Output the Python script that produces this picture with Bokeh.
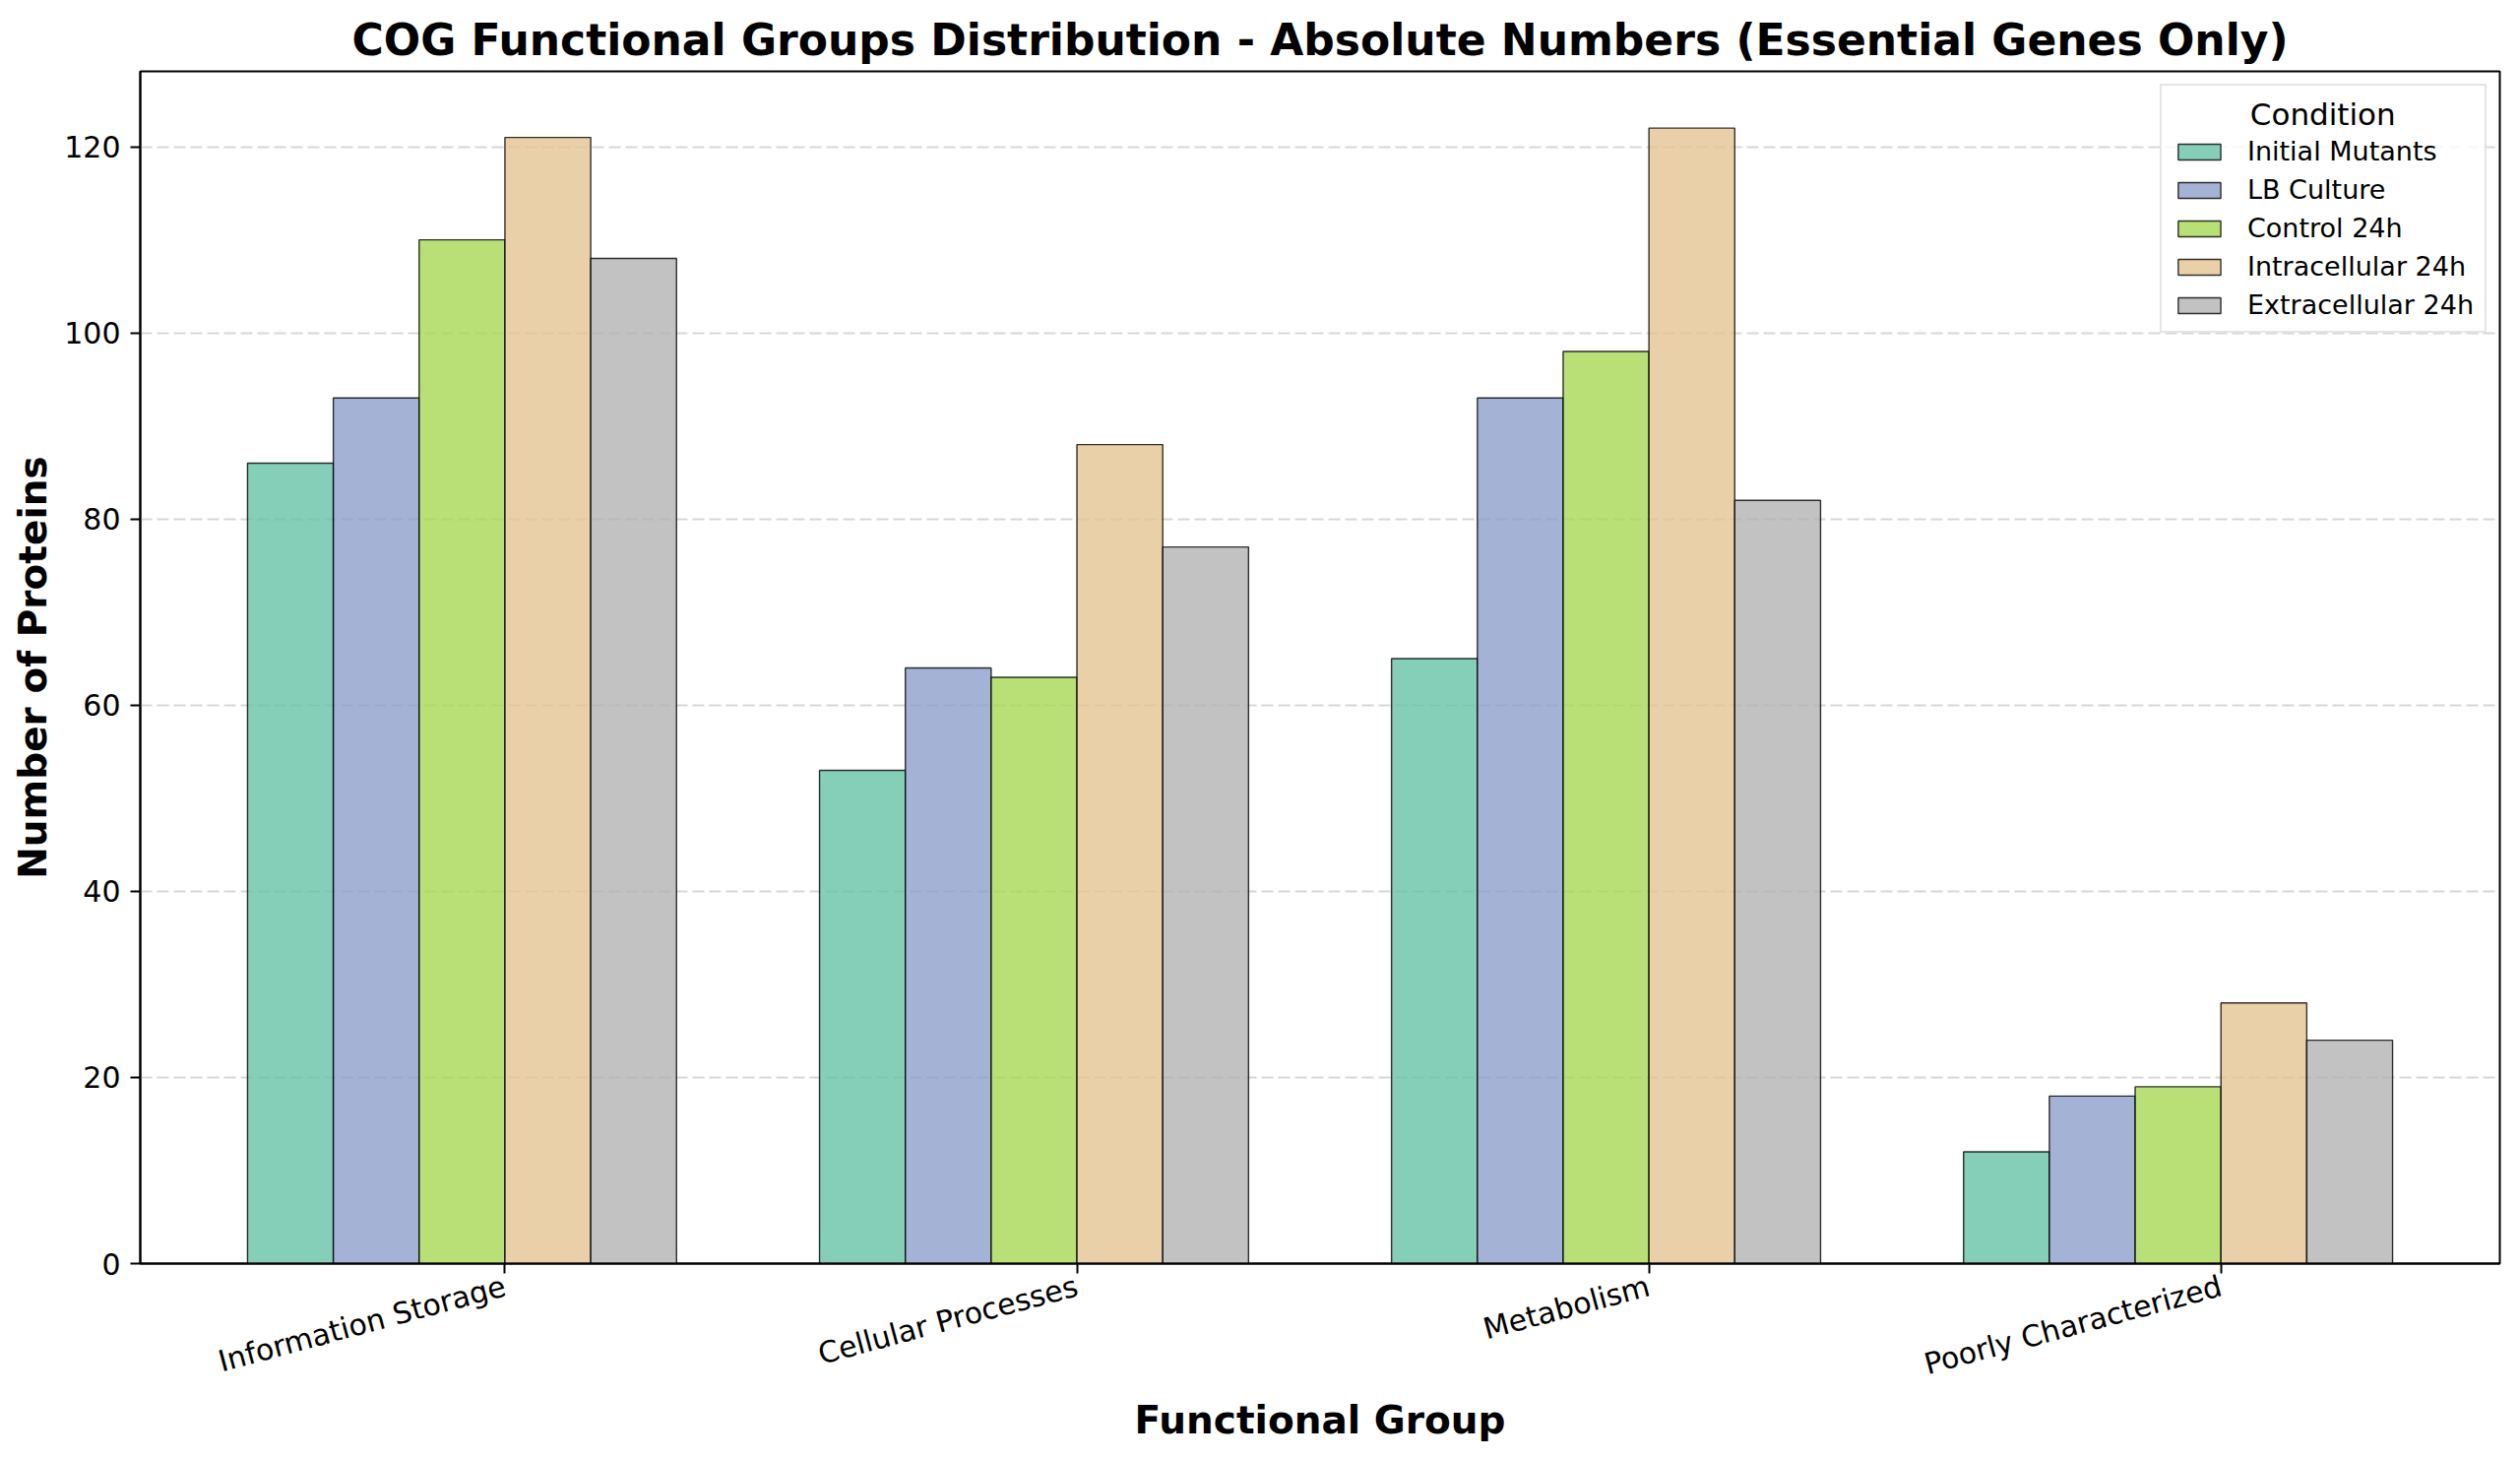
import math
from bokeh.plotting import figure
from bokeh.models import ColumnDataSource, Range1d, FixedTicker
from bokeh.transform import dodge
from bokeh.embed import file_html
from bokeh.resources import INLINE

groups = ["Information Storage", "Cellular Processes", "Metabolism", "Poorly Characterized"]
conditions = ["Initial Mutants", "LB Culture", "Control 24h", "Intracellular 24h", "Extracellular 24h"]
colors = ["#66c2a5", "#8da0cb", "#a6d854", "#e5c494", "#b3b3b3"]

initial_mutants = [86, 53, 65, 12]
lb_culture = [93, 64, 93, 18]
control_24h = [110, 63, 98, 19]
intracellular_24h = [121, 88, 122, 28]
extracellular_24h = [108, 77, 82, 24]

series = [initial_mutants, lb_culture, control_24h, intracellular_24h, extracellular_24h]
y_ticks = [0, 20, 40, 60, 80, 100, 120]

FONT = "DejaVu Sans"
bar_w = 0.15

p = figure(width=2552, height=1474, output_backend="svg", toolbar_location=None,
           x_range=Range1d(-0.6375, 3.4875), y_range=Range1d(0, 128.1),
           title="COG Functional Groups Distribution - Absolute Numbers (Essential Genes Only)",
           x_axis_label="Functional Group", y_axis_label="Number of Proteins",
           min_border_left=142, min_border_right=13, min_border_top=72, min_border_bottom=191)

p.title.text_font = FONT
p.title.text_font_size = "44px"
p.title.text_font_style = "bold"
p.title.text_color = "black"
p.title.align = "center"
p.title.standoff = 14

xs = list(range(len(groups)))
for i, (name, vals, col) in enumerate(zip(conditions, series, colors)):
    src = ColumnDataSource(dict(x=xs, top=vals))
    p.vbar(x=dodge("x", (i - 2.5) * bar_w, range=p.x_range), top="top", width=bar_w, source=src,
           fill_color=col, fill_alpha=0.8, line_color="black", line_alpha=0.8, line_width=1.4,
           legend_label=name)

p.xaxis.ticker = FixedTicker(ticks=xs)
p.xaxis.major_label_overrides = {i: g for i, g in enumerate(groups)}
p.xaxis.major_label_orientation = math.radians(15)
p.yaxis.ticker = FixedTicker(ticks=y_ticks)

for ax in [p.xaxis[0], p.yaxis[0]]:
    ax.major_label_text_font = FONT
    ax.major_label_text_font_size = "30px"
    ax.major_label_text_color = "black"
    ax.axis_label_text_font = FONT
    ax.axis_label_text_font_size = "39px"
    ax.axis_label_text_font_style = "bold"
    ax.axis_label_text_color = "black"
    ax.axis_line_color = "black"
    ax.axis_line_width = 2
    ax.major_tick_line_color = "black"
    ax.major_tick_line_width = 2
    ax.major_tick_out = 10
    ax.major_tick_in = 0
    ax.minor_tick_line_color = None
    ax.major_label_standoff = 10
p.xaxis.major_label_standoff = 12
p.xaxis.axis_label_standoff = -3
p.yaxis.axis_label_standoff = 6

p.xgrid.grid_line_color = None
p.ygrid.grid_line_color = "#b0b0b0"
p.ygrid.grid_line_alpha = 0.5
p.ygrid.grid_line_width = 2
p.ygrid.grid_line_dash = "12 5"

p.outline_line_color = "black"
p.outline_line_width = 2
p.outline_line_alpha = 1

lg = p.legend[0]
lg.location = "top_right"
lg.title = "\u00a0" * 8 + "Condition"
lg.title_text_font = FONT
lg.title_text_font_size = "31px"
lg.title_text_font_style = "normal"
lg.title_text_color = "black"
lg.title_standoff = 4
lg.label_text_font = FONT
lg.label_text_font_size = "27px"
lg.label_text_color = "black"
lg.glyph_width = 54
lg.glyph_height = 20
lg.label_height = 30
lg.label_standoff = 22
lg.spacing = 8
lg.padding = 11
lg.margin = 13
lg.border_line_color = "#cccccc"
lg.border_line_width = 2
lg.background_fill_alpha = 0.8

open("out.html", "w").write(file_html(p, INLINE))
